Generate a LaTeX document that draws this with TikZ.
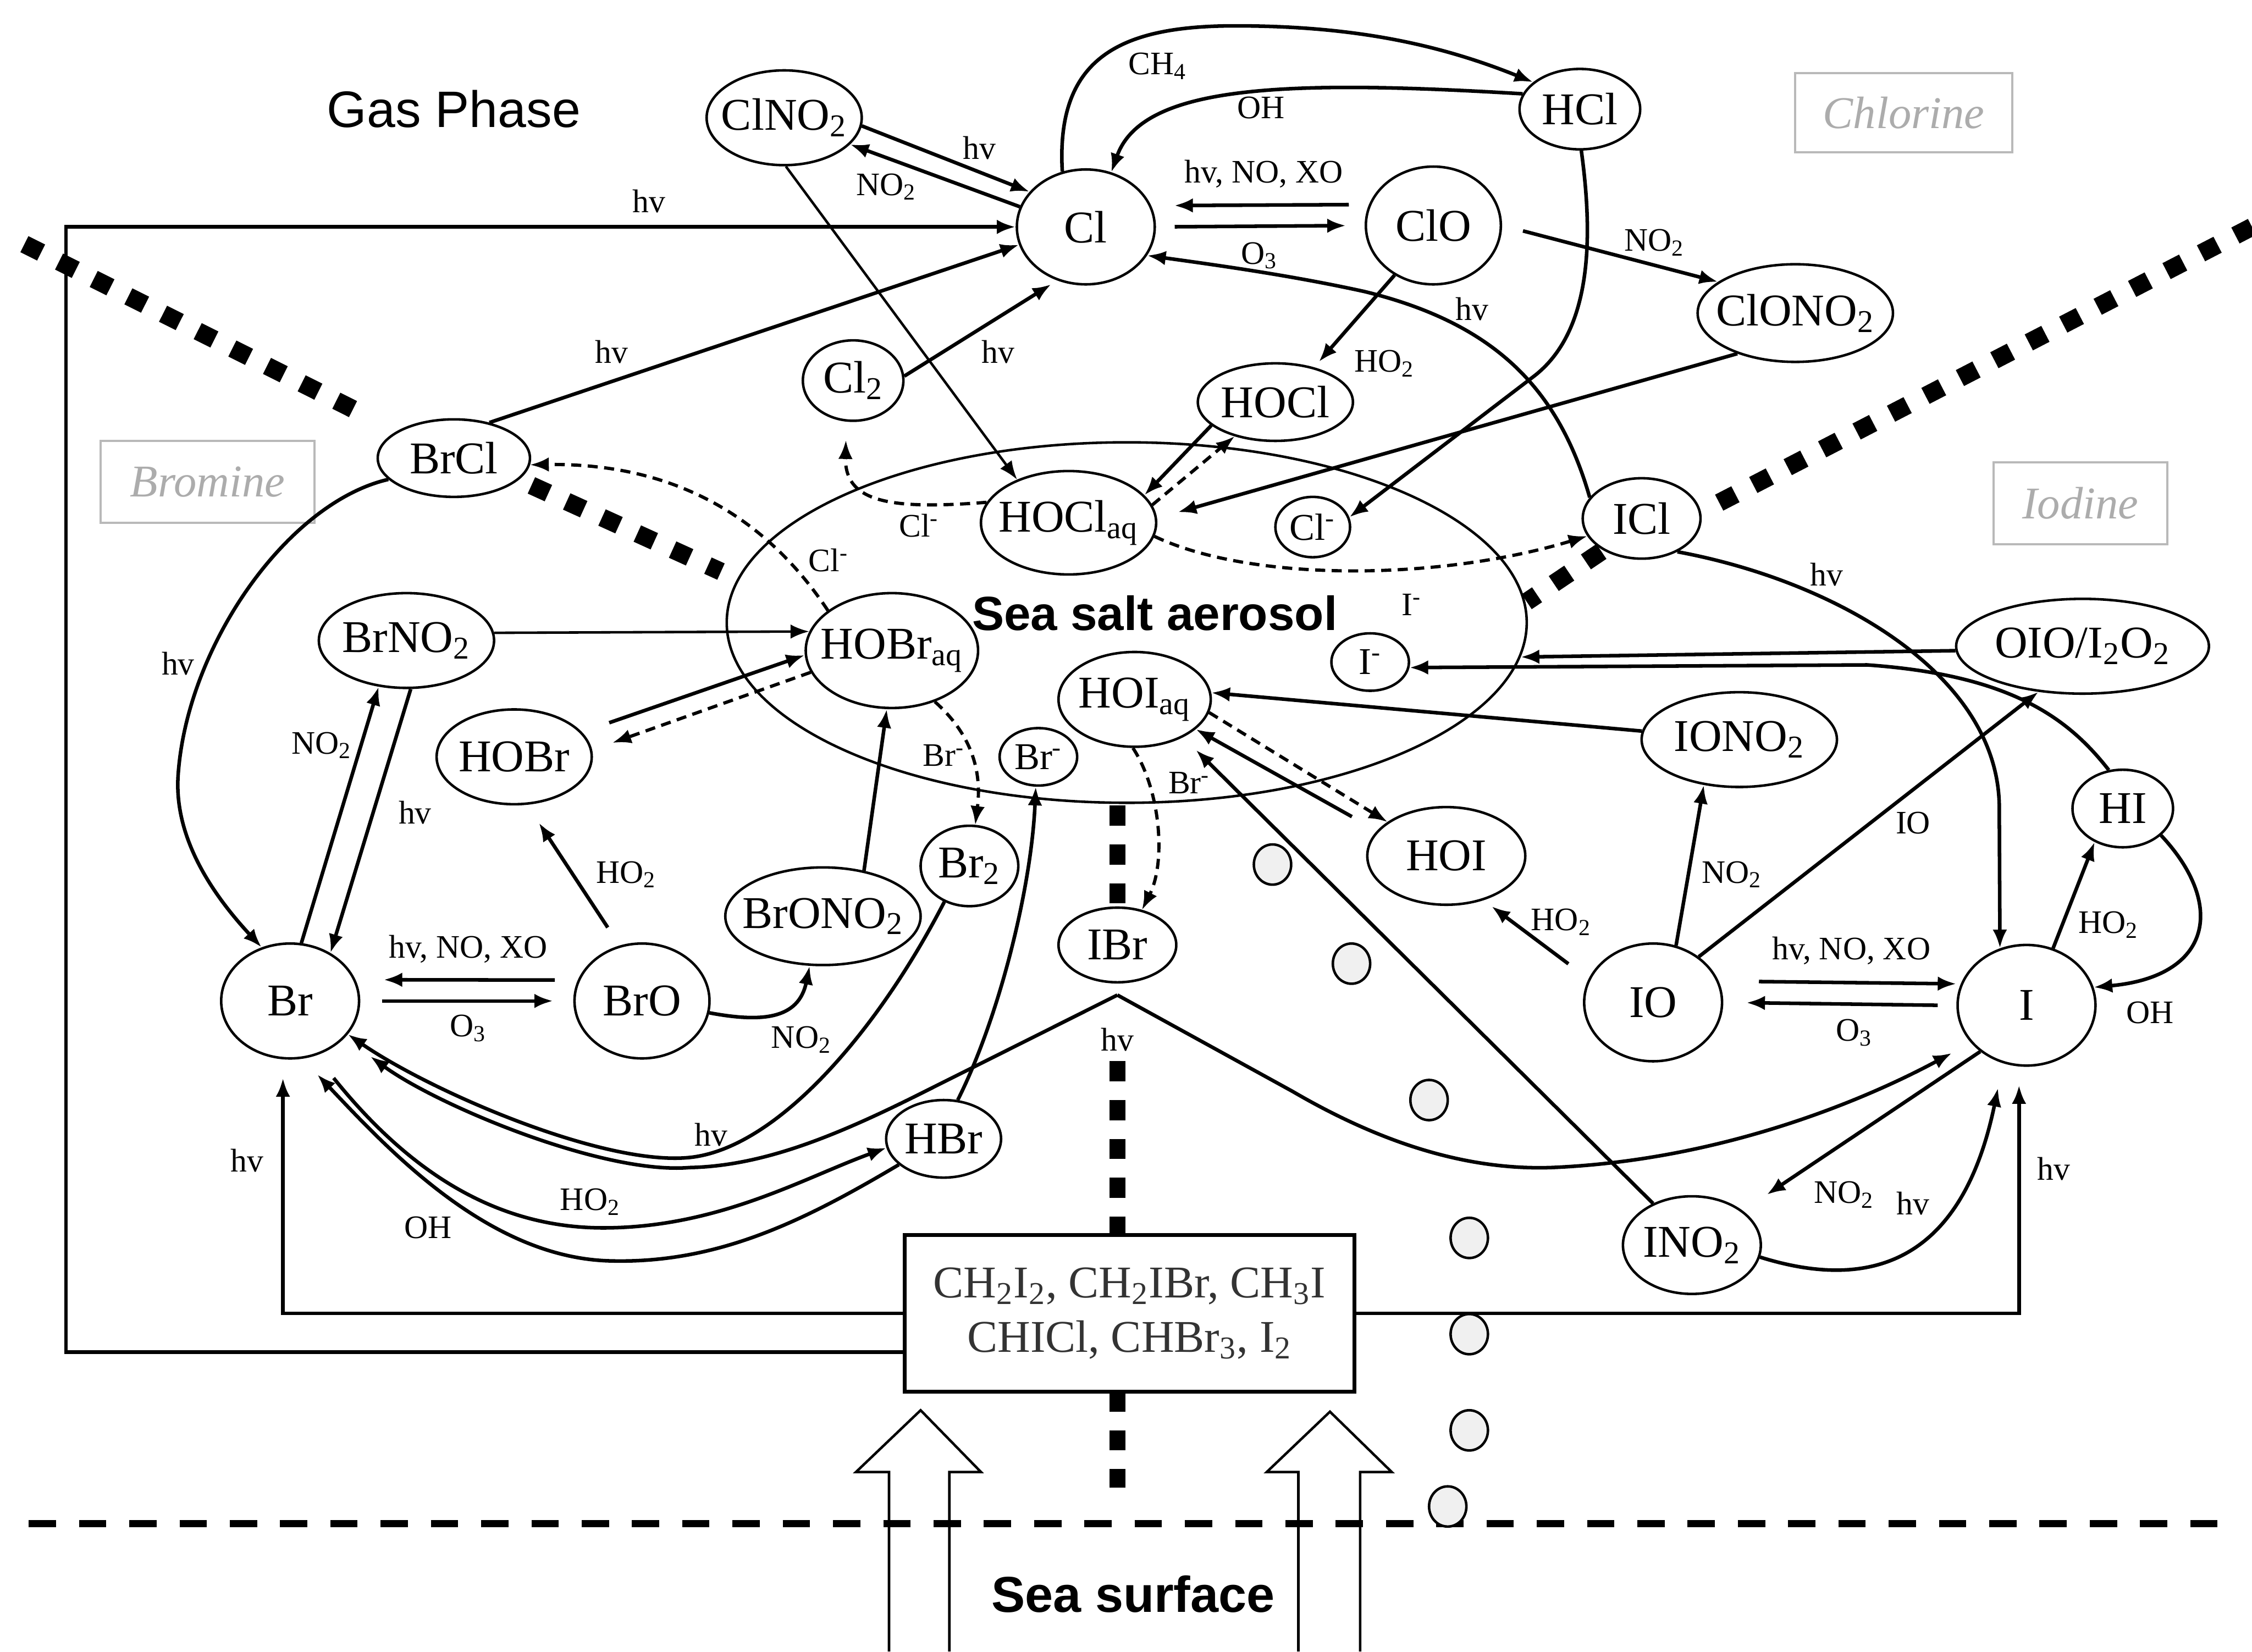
\documentclass[tikz,border=0pt]{standalone}
\usepackage{fontspec}
\setmainfont{Liberation Serif}
\newfontfamily\sansf{Liberation Sans}
\usetikzlibrary{arrows.meta,shapes.geometric}
\newcommand{\tsb}[1]{\textsubscript{#1}}
\newcommand{\tsp}[1]{\textsuperscript{#1}}
\newcommand{\nt}[1]{\makebox[0pt]{#1}}
\tikzset{
  nd/.style={ellipse, draw, line width=0.35mm, fill=white, inner sep=0pt, font=\fontsize{18}{20}\selectfont},
  sz/.style 2 args={minimum width=#1*0.4mm, minimum height=#2*0.4mm},
  ion/.style={font=\fontsize{15}{17}\selectfont},
  lab/.style={inner sep=0pt, font=\fontsize{13}{15}\selectfont},
  arr/.style={line width=0.5mm, -{Latex[length=2.6mm,width=2mm]}},
  tarr/.style={line width=0.35mm, -{Latex[length=2.6mm,width=2mm]}},
  darr/.style={line width=0.45mm, dash pattern=on 1.4mm off 0.9mm, -{Latex[length=2.6mm,width=2mm]}},
  bnd/.style={line width=2.5mm, dash pattern=on 2.6mm off 2.8mm},
  vbnd/.style={line width=2.2mm, dash pattern=on 2.8mm off 2.6mm},
  elbox/.style={draw=gray!55, line width=0.3mm, text=gray!65, font=\fontsize{18}{20}\selectfont\itshape, inner sep=0pt},
  bub/.style={ellipse, draw, fill=gray!12, line width=0.35mm, inner sep=0pt, minimum width=5.2mm, minimum height=5.6mm},
  hollow/.style={draw, fill=white, line width=0.35mm}
}
\begin{document}
\begin{tikzpicture}[x=0.2mm,y=-0.2mm]
\useasboundingbox (0,0) rectangle (1568,1150);
\fill[white] (0,0) rectangle (1568,1150);

% hollow arrows and sea surface
\draw[hollow] (619,1150) -- (619,1025) -- (596,1025) -- (641,982) -- (683,1025) -- (661,1025) -- (661,1150);
\draw[hollow] (904,1150) -- (904,1025) -- (882,1025) -- (926,983) -- (969,1025) -- (947,1025) -- (947,1150);
\draw[line width=1mm, dash pattern=on 3.8mm off 3.2mm] (20,1061) -- (1560,1061);

% bubbles
\node[bub] (b1) at (886,602) {};
\node[bub] (b2) at (941,671) {};
\node[bub] (b3) at (995,766) {};
\node[bub] (b4) at (1023,862) {};
\node[bub] (b5) at (1023,929) {};
\node[bub] (b6) at (1023,996) {};
\node[bub] (b7) at (1008,1049) {};

% sea salt aerosol
\node[ellipse, draw, line width=0.35mm, minimum width=111.4mm, minimum height=50.2mm, inner sep=0pt] (ssa) at (784.5,433.5) {};

% boundaries
\draw[bnd] (17,170) -- (258,291);
\draw[bnd] (370,338) -- (502,398);
\draw[bnd] (1568,158) -- (1197,350);
\draw[bnd] (1115,384) -- (1063,419);
\draw[vbnd] (778,561) -- (778,630);
\draw[vbnd] (778,739) -- (778,860);
\draw[vbnd] (778,969) -- (778,1036);

% titles
\node[font=\sansf\fontsize{20.3}{24}\selectfont] (gas) at (316,76) {Gas Phase};
\node[font=\sansf\bfseries\fontsize{19}{23}\selectfont] (ssal) at (804,427) {Sea salt aerosol};
\node[font=\sansf\bfseries\fontsize{20}{24}\selectfont] (seas) at (789,1110) {Sea surface};
\node[elbox, minimum width=30.2mm, minimum height=11mm] (chl) at (1325.5,78.5) {Chlorine};
\node[elbox, minimum width=29.8mm, minimum height=11.4mm] (brm) at (144.5,335.5) {Bromine};
\node[elbox, minimum width=24.2mm, minimum height=11.4mm] (iod) at (1448.5,350.5) {Iodine};

% species
\node[nd, sz={54}{33}] (ClNO2) at (546,82) {\nt{ClNO\tsb{2}}};
\node[nd, sz={42}{28}] (HCl) at (1100,76) {\nt{HCl}};
\node[nd, sz={48}{40}] (Cl) at (756,158) {\nt{Cl}};
\node[nd, sz={47}{41}] (ClO) at (998,157) {\nt{ClO}};
\node[nd, sz={68}{34}] (ClONO2) at (1250,218) {\nt{ClONO\tsb{2}}};
\node[nd, sz={35}{28}] (Cl2) at (594,265) {\nt{Cl\tsb{2}}};
\node[nd, sz={54}{27}] (HOCl) at (888,280) {\nt{HOCl}};
\node[nd, sz={53}{27}] (BrCl) at (316,319) {\nt{BrCl}};
\node[nd, sz={61}{36}] (HOClaq) at (744,364) {\nt{HOCl\tsb{aq}}};
\node[nd, ion, sz={26}{21}] (Clm) at (914,367) {\nt{Cl\tsp{-}}};
\node[nd, sz={41}{28}] (ICl) at (1143,361) {\nt{ICl}};
\node[nd, sz={61}{33}] (BrNO2) at (283,446) {\nt{BrNO\tsb{2}}};
\node[nd, sz={60}{40}] (HOBraq) at (621,453) {\nt{HOBr\tsb{aq}}};
\node[nd, ion, sz={27}{20}] (Im) at (954,461) {\nt{I\tsp{-}}};
\node[nd, sz={53}{33}] (HOIaq) at (790,487) {\nt{HOI\tsb{aq}}};
\node[nd, sz={88}{33}] (OIO) at (1450,450) {\nt{OIO/I\tsb{2}O\tsb{2}}};
\node[nd, sz={68}{33}] (IONO2) at (1211,515) {\nt{IONO\tsb{2}}};
\node[nd, sz={54}{33}] (HOBr) at (358,527) {\nt{HOBr}};
\node[nd, ion, sz={27}{20}] (Brm) at (723,527) {\nt{Br\tsp{-}}};
\node[nd, sz={35}{27}] (HI) at (1478,563) {\nt{HI}};
\node[nd, sz={55}{34}] (HOI) at (1007,596) {\nt{HOI}};
\node[nd, sz={34}{28}] (Br2) at (675,603) {\nt{Br\tsb{2}}};
\node[nd, sz={68}{34}] (BrONO2) at (573,638) {\nt{BrONO\tsb{2}}};
\node[nd, sz={41}{26}] (IBr) at (778,658) {\nt{IBr}};
\node[nd, sz={48}{40}] (Br) at (202,697) {\nt{Br}};
\node[nd, sz={47}{40}] (BrO) at (447,697) {\nt{BrO}};
\node[nd, sz={48}{41}] (IO) at (1151,698) {\nt{IO}};
\node[nd, sz={48}{42}] (I) at (1411,700) {\nt{I}};
\node[nd, sz={40}{27}] (HBr) at (657,793) {\nt{HBr}};
\node[nd, sz={48}{34}] (INO2) at (1178,867) {\nt{INO\tsb{2}}};
\node[draw, fill=white, line width=0.5mm, minimum width=62.6mm, minimum height=21.8mm, align=center, inner sep=0pt, font=\fontsize{18}{21.5}\selectfont, text=black!80] (src) at (786.5,914.5) {CH\tsb{2}I\tsb{2}, CH\tsb{2}IBr, CH\tsb{3}I\\CHICl, CHBr\tsb{3}, I\tsb{2}};

% frame
\draw[arr] ([yshift=-5.4mm]src.west) -| (46,158) -- (Cl.west);
\draw[arr, shorten >=2.6mm] (src.west) -| (Br.-97);
\draw[arr, shorten >=2.6mm] (src.east) -| (I.-97);

% chlorine
\draw[arr] (ClNO2.-6) -- (Cl.148);
\draw[arr] (Cl.163) -- (ClNO2.-22);
\draw[tarr] (ClNO2.-88) -- (HOClaq.140);
\draw[arr] (Cl.113) .. controls (735,40) and (780,18) .. (860,18) .. controls (940,18) and (1000,30) .. (HCl.150);
\draw[arr] (HCl.165) .. controls (890,55) and (795,60) .. (Cl.65);
\draw[arr, shorten <=2.8mm, shorten >=3.2mm] (ClO.162) -- (Cl.18);
\draw[arr, shorten <=2.6mm, shorten >=2.6mm] (Cl.east) -- (ClO.west);
\draw[arr, shorten <=3mm] (ClO.east) -- (ClONO2.158);
\draw[arr, shorten >=1mm] (ClO.-128) -- (HOCl.42);
\draw[arr, shorten >=1mm] (Cl2.5) -- (Cl.-118);
\draw[arr] (BrCl.45) -- (Cl.195);
\draw[arr] (ICl.158) .. controls (1085,270) and (1040,225) .. (950,203) .. controls (900,192) and (850,185) .. (Cl.-25);
\draw[arr] (HCl.-88) .. controls (1110,170) and (1107,232) .. (1068,262) -- (Clm.15);
\draw[arr, shorten >=3mm] (ClONO2.-145) -- (HOClaq.3);
\draw[arr] (HOCl.-160) -- (HOClaq.20);
\draw[darr] (HOClaq.12) -- (HOCl.-140);
\draw[darr] (HOClaq.166) .. controls (620,355) and (588,350) .. ([yshift=-2.6mm]Cl2.-100);
\draw[darr] (HOBraq.148) .. controls (540,370) and (480,322) .. (BrCl.-5);
\draw[darr] (HOClaq.-9) .. controls (870,405) and (1000,405) .. (ICl.-162);

% bromine
\draw[arr] (BrCl.-162) .. controls (200,350) and (130,450) .. (124,540) .. controls (121,585) and (150,625) .. (Br.118);
\draw[arr] (Br.79) -- (BrNO2.-121);
\draw[arr] (BrNO2.-85) -- (Br.50);
\draw[tarr] (BrNO2.5) -- (HOBraq.167);
\draw[arr, shorten <=4mm] (HOBr.20) -- (HOBraq.183);
\draw[darr, shorten >=3mm] (HOBraq.195) -- (HOBr.5);
\draw[arr, shorten <=3mm, shorten >=3mm] (BrO.112) -- (HOBr.-75);
\draw[arr, shorten <=3.2mm, shorten >=3.9mm] (BrO.162) -- (Br.18);
\draw[arr, shorten <=3mm, shorten >=2.8mm] (Br.east) -- (BrO.west);
\draw[arr] (BrO.-10) .. controls (530,712) and (556,710) .. (BrONO2.-105);
\draw[arr] (BrONO2.48) -- (HOBraq.-95);
\draw[darr] (HOBraq.-50) .. controls (675,510) and (684,535) .. (Br2.82);
\draw[arr] (Br2.-125) .. controls (610,720) and (540,800) .. (480,806) .. controls (420,812) and (300,760) .. (Br.-30);
\draw[arr, shorten >=4.4mm] ([yshift=-1.6mm]IBr.south) -- (640,762) .. controls (580,792) and (530,812) .. (480,813) .. controls (420,818) and (305,770) .. (Br.-34);
\draw[arr, shorten >=3mm] ([yshift=-1.6mm]IBr.south) -- (900,760) .. controls (960,795) and (1020,815) .. (1080,813) .. controls (1200,808) and (1300,765) .. (I.-146);
\draw[arr] (HBr.70) .. controls (695,710) and (718,620) .. (Brm.-95);
\draw[darr] (HOIaq.-92) .. controls (808,550) and (812,600) .. (IBr.55);
\draw[arr, shorten <=4mm] (Br.-65) .. controls (280,810) and (340,855) .. (420,855) .. controls (500,855) and (560,820) .. (HBr.189);
\draw[arr, shorten >=3mm] (HBr.-150) .. controls (560,850) and (500,880) .. (425,878) .. controls (340,876) and (270,800) .. (Br.-78);

% iodine
\draw[arr, shorten <=4mm] (HOI.160) -- (HOIaq.-26);
\draw[darr] (HOIaq.-10) -- (HOI.150);
\draw[arr, shorten >=2.5mm] (INO2.133) -- (HOIaq.-38);
\draw[arr] (IONO2.175) -- (HOIaq.5);
\draw[arr] (OIO.-178) -- (ssa.-5);
\draw[arr] (HI.110) .. controls (1440,500) and (1400,470) .. (1300,463) -- (Im.-8);
\draw[arr] (ICl.-43) .. controls (1280,405) and (1390,470) .. (1392,560) -- (I.115);
\draw[arr] (I.65) -- (HI.-130);
\draw[arr] (HI.-35) .. controls (1550,630) and (1540,680) .. (I.15);
\draw[arr, shorten <=5.6mm, shorten >=0.6mm] (IO.18) -- (I.162);
\draw[arr, shorten >=3.2mm] ([xshift=-2.6mm]I.west) -- (IO.east);
\draw[arr] (IO.68) -- (IONO2.-128);
\draw[arr] (IO.45) -- (OIO.-134);
\draw[arr, shorten <=3.5mm, shorten >=1.4mm] (IO.160) -- (HOI.-50);
\draw[arr, shorten >=4mm] (I.-135) -- (INO2.34);
\draw[arr, shorten >=3.5mm] (INO2.-10) .. controls (1320,905) and (1370,860) .. (I.-112);

% labels
\node[lab] (l1) at (452,140) {hv};
\node[lab] (l2) at (806,46) {CH\tsb{4}};
\node[lab] (l3) at (878,75) {OH};
\node[lab] (l4) at (682,103) {hv};
\node[lab] (l5) at (617,130) {NO\tsb{2}};
\node[lab] (l6) at (880,121) {hv, NO, XO};
\node[lab] (l7) at (877,178) {O\tsb{3}};
\node[lab] (l8) at (1152,169) {NO\tsb{2}};
\node[lab] (l9) at (1025,215) {hv};
\node[lab] (l10) at (964,253) {HO\tsb{2}};
\node[lab] (l11) at (695,245) {hv};
\node[lab] (l12) at (426,245) {hv};
\node[lab] (l13) at (640,366) {Cl\tsp{-}};
\node[lab] (l14) at (577,390) {Cl\tsp{-}};
\node[lab] (l15) at (983,421) {I\tsp{-}};
\node[lab] (l16) at (124,462) {hv};
\node[lab] (l17) at (224,519) {NO\tsb{2}};
\node[lab] (l18) at (289,566) {hv};
\node[lab] (l19) at (436,609) {HO\tsb{2}};
\node[lab] (l20) at (657,526) {Br\tsp{-}};
\node[lab] (l21) at (828,545) {Br\tsp{-}};
\node[lab] (l22) at (326,661) {hv, NO, XO};
\node[lab] (l23) at (326,716) {O\tsb{3}};
\node[lab] (l24) at (558,724) {NO\tsb{2}};
\node[lab] (l25) at (778,724) {hv};
\node[lab] (l26) at (495,790) {hv};
\node[lab] (l27) at (411,837) {HO\tsb{2}};
\node[lab] (l28) at (298,855) {OH};
\node[lab] (l29) at (172,808) {hv};
\node[lab] (l30) at (1272,400) {hv};
\node[lab] (l31) at (1332,573) {IO};
\node[lab] (l32) at (1206,609) {NO\tsb{2}};
\node[lab] (l33) at (1087,642) {HO\tsb{2}};
\node[lab] (l34) at (1468,644) {HO\tsb{2}};
\node[lab] (l35) at (1289,662) {hv, NO, XO};
\node[lab] (l36) at (1291,719) {O\tsb{3}};
\node[lab] (l37) at (1497,705) {OH};
\node[lab] (l38) at (1284,832) {NO\tsb{2}};
\node[lab] (l39) at (1332,838) {hv};
\node[lab] (l40) at (1430,814) {hv};
\end{tikzpicture}
\end{document}
